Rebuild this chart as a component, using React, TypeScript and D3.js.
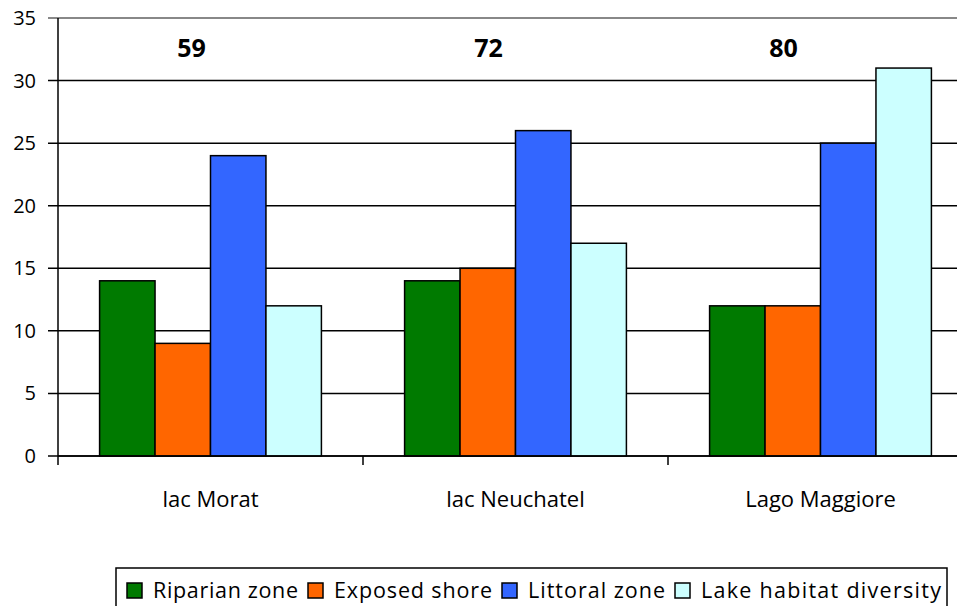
import React from "react";
import * as d3 from "d3";

const categories = ["lac Morat", "lac Neuchatel", "Lago Maggiore"];
const seriesNames = ["Riparian zone", "Exposed shore", "Littoral zone", "Lake habitat diversity"];
const seriesColors = ["#007A00", "#FF6600", "#3366FF", "#CCFFFF"];
const riparian = [14, 14, 12];
const exposed = [9, 15, 12];
const littoral = [24, 26, 25];
const lakeDiversity = [12, 17, 31];
const totals = [59, 72, 80];
const yTicks = [0, 5, 10, 15, 20, 25, 30, 35];

const series = [riparian, exposed, littoral, lakeDiversity];

// layout constants (not data)
const totalLabelOffsets = [-19, -27, -37];
const legendTextWidths = [145, 158, 137, 240];

export default function App() {
  const W = 957, H = 606;
  const left = 58, bandW = 305, top = 18, bottom = 456;
  const x = d3.scaleBand<string>().domain(categories).range([left, left + bandW * 3]).paddingInner(0).paddingOuter(0);
  const y = d3.scaleLinear().domain([0, 35]).range([bottom, top]);
  const barW = x.bandwidth() / 5.5;
  const font = "'Open Sans', 'Noto Sans', sans-serif";
  const swatchXs: number[] = [];
  let cx = 127;
  legendTextWidths.forEach((w) => {
    swatchXs.push(cx);
    cx += 26 + w + 10;
  });
  return (
    <svg width={W} height={H} style={{ position: "absolute", left: 0, top: 0 }}>
      <rect x={0} y={0} width={W} height={H} fill="#fff" />
      {yTicks.map((t) => (
        <g key={t}>
          <line x1={left - 10} x2={W} y1={y(t)} y2={y(t)} stroke={t === 35 ? "#888" : "#000"} strokeWidth={t === 35 ? 2 : 1.5} />
          <text x={36} y={y(t) + 7} textAnchor="end" fontFamily={font} fontSize={20} fill="#000">{t}</text>
        </g>
      ))}
      {categories.map((c, ci) =>
        series.map((s, si) => (
          <rect key={c + si} x={(x(c) as number) + barW * 0.75 + si * barW} y={y(s[ci])} width={barW} height={bottom - y(s[ci])} fill={seriesColors[si]} stroke="#000" strokeWidth={1.5} />
        ))
      )}
      <line x1={left} x2={left} y1={top} y2={bottom} stroke="#000" strokeWidth={1.5} />
      <line x1={left} x2={W} y1={bottom} y2={bottom} stroke="#000" strokeWidth={1.5} />
      {[0, 1, 2, 3].map((i) => (
        <line key={i} x1={left + i * bandW} x2={left + i * bandW} y1={bottom} y2={bottom + 9} stroke="#000" strokeWidth={1.5} />
      ))}
      {categories.map((c, ci) => (
        <g key={c}>
          <text x={(x(c) as number) + x.bandwidth() / 2} y={507} textAnchor="middle" fontFamily={font} fontSize={22} fill="#000">{c}</text>
          <text x={(x(c) as number) + x.bandwidth() / 2 + totalLabelOffsets[ci]} y={57} textAnchor="middle" fontFamily={font} fontSize={25} fontWeight="bold" fill="#000">{totals[ci]}</text>
        </g>
      ))}
      <rect x={116} y={568} width={831} height={45} fill="#fff" stroke="#000" strokeWidth={1.5} />
      {seriesNames.map((n, i) => (
        <g key={n}>
          <rect x={swatchXs[i]} y={583} width={15} height={15} fill={seriesColors[i]} stroke="#000" strokeWidth={1.5} />
          <text x={swatchXs[i] + 26} y={598} fontFamily={font} fontSize={21.5} fill="#000" textLength={legendTextWidths[i]} lengthAdjust="spacing">{n}</text>
        </g>
      ))}
    </svg>
  );
}
